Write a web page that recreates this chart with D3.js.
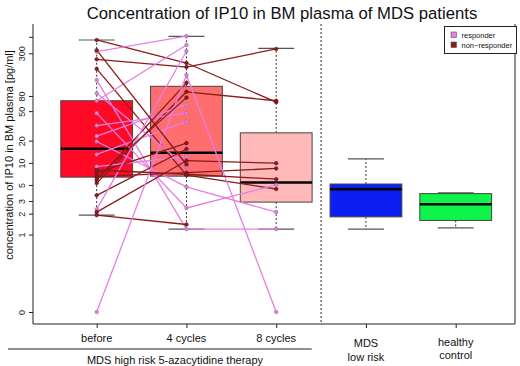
<!DOCTYPE html>
<html>
<head>
<meta charset="utf-8">
<script src="https://cdn.jsdelivr.net/npm/d3@7"></script>
<style>
  body { margin: 0; background: #fff; }
  svg { font-family: "Liberation Sans", Arial, sans-serif; }
</style>
</head>
<body>
<svg id="chart" width="520" height="366"></svg>
<script>
// groups on the x axis
const groups = ["before", "4 cycles", "8 cycles", "MDS low risk", "healthy control"];
const boxColors = ["#ff0a26", "#ff6e6e", "#ffb9b9", "#0a1ff0", "#0df54a"];

// box statistics (pg/ml)
const whiskerLow = [1.9, 1.2, 1.2, 1.2, 1.25];
const q1 = [6.4, 6.6, 2.9, 1.8, 1.6];
const median = [15.6, 13.7, 5.4, 4.35, 2.7];
const q3 = [69, 108, 25.5, 5.15, 3.8];
const whiskerHigh = [453, 508, 349, 11.3, 3.9];

// single patients, high risk group (null = no value at 8 cycles)
const responder = [false, false, true, false, false, true, true, true, true, true, true, true, true,
                   true, false, false, false, false, true, false, false, true, false, false, false];
const valBefore = [453, 249, 315, 185, 5.3, 131, 87, 69, 47, 32, 23, 19.5, 13,
                   8.9, 7.3, 6.5, 5.8, 3.6, 2.3, 2.1, 1.9, 0, 6.3, 8.0, 330];
const val4cycles = [222, 196, 512, 6.8, 91, 1.2, 8.9, 388, 2.4, 47, 61, 4.7, 36,
                    12.2, 18.5, 7.35, 120, 15.4, 320, 10.7, 1.4, 153, 76, 7.0, 9.5];
const val8cycles = [66, 343, null, 4.4, 69, 1.2, null, null, 5.0, null, null, 2.1, null,
                    null, null, 8.4, null, null, null, 9.9, null, 0, null, 6.0, null];

const yTicks = [0, 1, 2, 3, 5, 10, 20, 50, 80, 300, 500];
const yTickLabels = ["0", "1", "2", "3", "5", "10", "20", "50", "80", "300", ""];

const legendLabels = ["responder", "non\u2212responder"];
const colResp = "#e57fe2";
const colNonResp = "#8b1a1a";

const svg = d3.select("#chart");

const plotLeft = 33, plotRight = 515, plotTop = 24, plotBottom = 324;

// log scale of (value + 0.1) so that 0 can be shown
const yLog = d3.scaleLog().domain([0.1, 300.1]).range([312, 53.3]);
const y = v => yLog(v + 0.1);

const x = d3.scalePoint().domain(groups).range([96.7, 455.7]);
const boxW = x.step() * 0.8;

// frame (left, bottom, right)
svg.append("path")
    .attr("d", `M${plotLeft},${plotTop}V${plotBottom}H${plotRight}V${plotTop}`)
    .attr("fill", "none")
    .attr("stroke", "#222")
    .attr("stroke-width", 1);

// separator between high risk and others
const sepX = (x("8 cycles") + x("MDS low risk")) / 2;
svg.append("line")
    .attr("x1", sepX).attr("x2", sepX)
    .attr("y1", plotTop).attr("y2", plotBottom)
    .attr("stroke", "#222")
    .attr("stroke-dasharray", "2,2");

// boxes
groups.forEach((g, i) => {
    const cx = x(g);
    const gb = svg.append("g");
    // whiskers
    gb.append("line")
        .attr("x1", cx).attr("x2", cx)
        .attr("y1", y(q3[i])).attr("y2", y(whiskerHigh[i]))
        .attr("stroke", "#333").attr("stroke-dasharray", "2,2");
    gb.append("line")
        .attr("x1", cx).attr("x2", cx)
        .attr("y1", y(q1[i])).attr("y2", y(whiskerLow[i]))
        .attr("stroke", "#333").attr("stroke-dasharray", "2,2");
    [whiskerHigh[i], whiskerLow[i]].forEach(v => {
        gb.append("line")
            .attr("x1", cx - boxW / 4).attr("x2", cx + boxW / 4)
            .attr("y1", y(v)).attr("y2", y(v))
            .attr("stroke", "#555").attr("stroke-width", 1.2);
    });
    gb.append("rect")
        .attr("x", cx - boxW / 2)
        .attr("width", boxW)
        .attr("y", y(q3[i]))
        .attr("height", y(q1[i]) - y(q3[i]))
        .attr("fill", boxColors[i])
        .attr("stroke", "#444");
    gb.append("line")
        .attr("x1", cx - boxW / 2).attr("x2", cx + boxW / 2)
        .attr("y1", y(median[i])).attr("y2", y(median[i]))
        .attr("stroke", "#000").attr("stroke-width", 2.5);
});

// patient lines
const lines = svg.append("g");
valBefore.forEach((v, i) => {
    const col = responder[i] ? colResp : colNonResp;
    lines.append("line")
        .attr("x1", x("before")).attr("y1", y(v))
        .attr("x2", x("4 cycles")).attr("y2", y(val4cycles[i]))
        .attr("stroke", col).attr("stroke-width", 1.3);
    if (val8cycles[i] !== null) {
        lines.append("line")
            .attr("x1", x("4 cycles")).attr("y1", y(val4cycles[i]))
            .attr("x2", x("8 cycles")).attr("y2", y(val8cycles[i]))
            .attr("stroke", col).attr("stroke-width", 1.3);
    }
});

// patient points
const pts = svg.append("g");
const columns = [["before", valBefore], ["4 cycles", val4cycles], ["8 cycles", val8cycles]];
columns.forEach(([g, vals]) => {
    vals.forEach((v, i) => {
        if (v === null) return;
        pts.append("circle")
            .attr("cx", x(g)).attr("cy", y(v))
            .attr("r", 1.8)
            .attr("fill", responder[i] ? colResp : colNonResp)
            .attr("stroke", responder[i] ? "#a070a0" : "#6a1010")
            .attr("stroke-width", 0.6);
    });
});

// y axis
const yAxis = svg.append("g")
    .attr("transform", `translate(${plotLeft},0)`)
    .call(d3.axisLeft(yLog)
        .tickValues(yTicks.map(t => t + 0.1))
        .tickSize(4)
        .tickFormat((d, i) => yTickLabels[i]));
yAxis.select(".domain").remove();
yAxis.selectAll(".tick line").attr("stroke", "#222");
yAxis.selectAll(".tick text")
    .attr("x", null).attr("dy", null)
    .attr("transform", "translate(-8,0) rotate(-90)")
    .attr("text-anchor", "middle")
    .attr("font-size", 9)
    .attr("fill", "#222");

// x axis
const xAxis = svg.append("g")
    .attr("transform", `translate(0,${plotBottom})`)
    .call(d3.axisBottom(x).tickSize(4).tickFormat(""));
xAxis.select(".domain").remove();
xAxis.selectAll(".tick line").attr("stroke", "#222");

const xLabelLines = [["before"], ["4 cycles"], ["8 cycles"], ["MDS", "low risk"], ["healthy", "control"]];
const xLabelY = [[342], [342], [342], [347, 361], [345.5, 358.5]];
groups.forEach((g, i) => {
    xLabelLines[i].forEach((t, j) => {
        svg.append("text")
            .attr("x", x(g)).attr("y", xLabelY[i][j])
            .attr("text-anchor", "middle")
            .attr("font-size", 11)
            .attr("fill", "#111")
            .text(t);
    });
});

svg.append("line")
    .attr("x1", 8).attr("x2", 311.7)
    .attr("y1", 349).attr("y2", 349)
    .attr("stroke", "#222");
svg.append("text")
    .attr("x", 175).attr("y", 363.5)
    .attr("text-anchor", "middle")
    .attr("font-size", 11)
    .attr("fill", "#111")
    .text("MDS high risk 5-azacytidine therapy");

// y label
svg.append("text")
    .attr("transform", "translate(13,155) rotate(-90)")
    .attr("text-anchor", "middle")
    .attr("font-size", 11)
    .attr("fill", "#111")
    .text("concentration of IP10 in BM plasma [pg/ml]");

// title
svg.append("text")
    .attr("x", 282).attr("y", 19)
    .attr("text-anchor", "middle")
    .attr("font-size", 16.7)
    .attr("fill", "#111")
    .text("Concentration of IP10 in BM plasma of MDS patients");

// legend
const lg = svg.append("g");
lg.append("rect")
    .attr("x", 444.5).attr("y", 26.5)
    .attr("width", 72).attr("height", 27)
    .attr("fill", "#fff").attr("stroke", "#222");
[colResp, colNonResp].forEach((c, i) => {
    lg.append("rect")
        .attr("x", 451).attr("y", 32 + i * 10)
        .attr("width", 5.5).attr("height", 5.5)
        .attr("fill", c).attr("stroke", "#555").attr("stroke-width", 0.6);
    lg.append("text")
        .attr("x", 461.5).attr("y", 37.8 + i * 10)
        .attr("font-size", 7.5)
        .attr("fill", "#111")
        .text(legendLabels[i]);
});
</script>
</body>
</html>
